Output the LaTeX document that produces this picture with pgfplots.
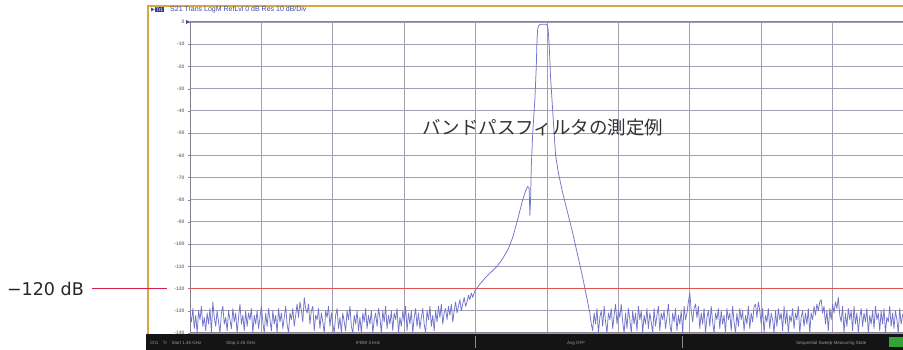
\documentclass[border=0pt]{standalone}
\usepackage{pgfplots}
\pgfplotsset{compat=1.18}
\usepackage{fontspec}
\setmainfont{DejaVu Sans}
\newfontfamily\jp{Noto Sans CJK JP}
\newfontfamily\lib{Liberation Sans}
\definecolor{goldc}{HTML}{D6A843}
\definecolor{gridc}{HTML}{A49EB2}
\definecolor{axc}{HTML}{86808F}
\definecolor{tracec}{HTML}{7174C8}
\definecolor{refred}{HTML}{E2554E}
\definecolor{annred}{HTML}{D4234A}
\definecolor{titleblue}{HTML}{3A4AA8}
\begin{document}
\begin{tikzpicture}
\useasboundingbox (0,0) rectangle (903pt,350pt);
\fill[white] (0,0) rectangle (903pt,350pt);
\fill[black!92] (146pt,0pt) rectangle (903pt,16pt);
\draw[goldc, line width=2pt] (148pt,16pt) -- (148pt,344pt) -- (910pt,344pt);
\begin{axis}[
  at={(190pt,17pt)}, anchor=south west,
  scale only axis, width=714pt, height=311pt,
  xmin=1450, xmax=2450, ymin=-140, ymax=0,
  xtick={1450,1550,...,2450}, xticklabels={},
  ytick={0,-10,...,-140},
  yticklabel style={font=\lib\bfseries\fontsize{5}{6}\selectfont, text=black!50},
  /pgf/number format/assume math mode=true,
  grid=major,
  major grid style={color=gridc, line width=0.9pt},
  axis line style={color=axc, line width=1pt},
  tick style={color=axc},
  major tick length=2pt,
  tick align=outside,
  xtick style={draw=none},
  axis background/.style={fill=white},
]
\addplot[refred, line width=0.9pt] coordinates {(1450,-120) (2450,-120)};
\addplot[tracec, line width=0.75pt, line join=round] coordinates {
(1450,-131) (1452,-135) (1454,-129) (1456,-138) (1458,-132) (1460,-140) (1462,-130) (1464,-134) (1466,-128) (1468,-137)
(1470,-133) (1472,-139) (1474,-131) (1476,-136) (1478,-129) (1480,-140) (1482,-126) (1484,-133) (1486,-137) (1488,-130)
(1490,-135) (1492,-140) (1494,-131) (1496,-128) (1498,-136) (1500,-133) (1502,-139) (1504,-130) (1506,-134) (1508,-138)
(1510,-129) (1512,-135) (1514,-131) (1516,-140) (1518,-133) (1520,-127) (1522,-136) (1524,-132) (1526,-139) (1528,-130)
(1530,-137) (1532,-131) (1534,-134) (1536,-129) (1538,-140) (1540,-132) (1542,-136) (1544,-130) (1546,-138) (1548,-133)
(1550,-128) (1552,-135) (1554,-140) (1556,-131) (1558,-137) (1560,-129) (1562,-134) (1564,-139) (1566,-130) (1568,-136)
(1570,-132) (1572,-140) (1574,-129) (1576,-135) (1578,-131) (1580,-138) (1582,-133) (1584,-128) (1586,-136) (1588,-140)
(1590,-131) (1592,-134) (1594,-129) (1596,-137) (1598,-132) (1600,-127) (1602,-133) (1604,-126) (1606,-130) (1608,-135)
(1610,-124) (1612,-129) (1614,-131) (1616,-127) (1618,-136) (1620,-130) (1622,-128) (1624,-139) (1626,-132) (1628,-134)
(1630,-129) (1632,-138) (1634,-131) (1636,-135) (1638,-140) (1640,-130) (1642,-133) (1644,-128) (1646,-137) (1648,-131)
(1650,-136) (1652,-140) (1654,-132) (1656,-129) (1658,-138) (1660,-133) (1662,-140) (1664,-131) (1666,-135) (1668,-139)
(1670,-130) (1672,-134) (1674,-128) (1676,-137) (1678,-140) (1680,-132) (1682,-136) (1684,-130) (1686,-139) (1688,-133)
(1690,-140) (1692,-131) (1694,-135) (1696,-129) (1698,-138) (1700,-132) (1702,-136) (1704,-130) (1706,-140) (1708,-134)
(1710,-131) (1712,-137) (1714,-129) (1716,-133) (1718,-140) (1720,-130) (1722,-135) (1724,-128) (1726,-138) (1728,-132)
(1730,-136) (1732,-130) (1734,-139) (1736,-131) (1738,-134) (1740,-129) (1742,-140) (1744,-133) (1746,-137) (1748,-130)
(1750,-135) (1752,-128) (1754,-139) (1756,-131) (1758,-136) (1760,-130) (1762,-140) (1764,-133) (1766,-129) (1768,-137)
(1770,-131) (1772,-138) (1774,-133) (1776,-129) (1778,-136) (1780,-140) (1782,-130) (1784,-134) (1786,-128) (1788,-137)
(1790,-132) (1792,-139) (1794,-130) (1796,-135) (1798,-128) (1800,-133) (1802,-127) (1804,-136) (1806,-131) (1808,-129)
(1810,-134) (1812,-128) (1814,-132) (1816,-127) (1818,-135) (1820,-130) (1822,-126) (1824,-131) (1826,-128) (1828,-125)
(1830,-130) (1832,-127) (1834,-124) (1836,-128) (1838,-126) (1840,-123) (1842,-125) (1844,-122) (1846,-124)
(1849,-121) (1856,-118) (1864,-115) (1872,-112.5) (1880,-110) (1888,-106.5) (1896,-102) (1902,-97)
(1908,-90) (1912,-85) (1916,-80) (1920,-76) (1923,-74) (1925,-75) (1926,-87) (1927,-80)
(1928,-65) (1930,-50) (1933,-35) (1935,-20) (1936,-8) (1937,-3) (1938.5,-1.5) (1942,-1)
(1948,-1) (1950,-1.3) (1951.5,-3) (1953,-10) (1955,-25) (1958,-40) (1962,-60) (1966,-68)
(1972,-77) (1979,-86) (1986,-95) (1993,-105) (2000,-115) (2005,-123) (2010,-131) (2012,-136)
(2014,-139) (2016,-131) (2018,-136) (2020,-129) (2022,-140) (2024,-133) (2026,-130) (2028,-137) (2030,-128) (2032,-135)
(2034,-140) (2036,-131) (2038,-134) (2040,-129) (2042,-138) (2044,-132) (2046,-127) (2048,-136) (2050,-130) (2052,-133)
(2054,-127) (2056,-135) (2058,-140) (2060,-131) (2062,-138) (2064,-129) (2066,-134) (2068,-140) (2070,-130) (2072,-136)
(2074,-131) (2076,-139) (2078,-128) (2080,-134) (2082,-130) (2084,-140) (2086,-132) (2088,-136) (2090,-129) (2092,-138)
(2094,-131) (2096,-135) (2098,-140) (2100,-129) (2102,-137) (2104,-132) (2106,-128) (2108,-139) (2110,-131) (2112,-134)
(2114,-130) (2116,-138) (2118,-133) (2120,-127) (2122,-136) (2124,-140) (2126,-131) (2128,-135) (2130,-129) (2132,-139)
(2134,-132) (2136,-136) (2138,-130) (2140,-140) (2142,-128) (2144,-134) (2146,-131) (2148,-126) (2150,-122) (2152,-130)
(2154,-135) (2156,-129) (2158,-127) (2160,-133) (2162,-128) (2164,-138) (2166,-131) (2168,-136) (2170,-129) (2172,-140)
(2174,-133) (2176,-130) (2178,-137) (2180,-128) (2182,-135) (2184,-140) (2186,-131) (2188,-134) (2190,-129) (2192,-138)
(2194,-130) (2196,-136) (2198,-132) (2200,-140) (2202,-129) (2204,-134) (2206,-131) (2208,-139) (2210,-128) (2212,-135)
(2214,-140) (2216,-131) (2218,-137) (2220,-129) (2222,-134) (2224,-130) (2226,-139) (2228,-132) (2230,-136) (2232,-128)
(2234,-138) (2236,-131) (2238,-135) (2240,-128) (2242,-127) (2244,-133) (2246,-126) (2248,-130) (2250,-136) (2252,-129)
(2254,-140) (2256,-132) (2258,-135) (2260,-129) (2262,-138) (2264,-131) (2266,-134) (2268,-140) (2270,-130) (2272,-137)
(2274,-129) (2276,-134) (2278,-131) (2280,-139) (2282,-128) (2284,-136) (2286,-130) (2288,-140) (2290,-132) (2292,-135)
(2294,-129) (2296,-138) (2298,-131) (2300,-134) (2302,-128) (2304,-140) (2306,-133) (2308,-130) (2310,-137) (2312,-131)
(2314,-136) (2316,-129) (2318,-140) (2320,-131) (2322,-134) (2324,-128) (2326,-132) (2328,-127) (2330,-130) (2332,-126)
(2334,-125) (2336,-131) (2338,-128) (2340,-136) (2342,-130) (2344,-139) (2346,-129) (2348,-134) (2350,-127) (2352,-131)
(2354,-126) (2356,-129) (2358,-124) (2360,-132) (2362,-135) (2364,-128) (2366,-140) (2368,-131) (2370,-137) (2372,-129)
(2374,-134) (2376,-130) (2378,-139) (2380,-128) (2382,-136) (2384,-131) (2386,-140) (2388,-133) (2390,-129) (2392,-137)
(2394,-131) (2396,-135) (2398,-129) (2400,-140) (2402,-132) (2404,-136) (2406,-130) (2408,-138) (2410,-128) (2412,-134)
(2414,-131) (2416,-139) (2418,-130) (2420,-136) (2422,-129) (2424,-140) (2426,-133) (2428,-135) (2430,-128) (2432,-137)
(2434,-131) (2436,-138) (2438,-130) (2440,-134) (2442,-140) (2444,-129) (2446,-136) (2448,-132) (2450,-130)
};
\node[font=\jp\fontsize{18.5}{20}\selectfont, text=black!80] at (axis cs:1944,-47.3) {バンドパスフィルタの測定例};
\end{axis}
% reference level marker
\fill[titleblue] (186pt,326pt) -- (190pt,328pt) -- (186pt,330pt) -- cycle;
% title
\fill[titleblue] (151pt,338.5pt) -- (154.5pt,340.5pt) -- (151pt,342.5pt) -- cycle;
\node[fill=titleblue!85!black, text=white, inner sep=0.7pt, font=\lib\fontsize{5}{6}\selectfont, anchor=west] at (155pt,340.5pt) {Tr1};
\node[text=titleblue, inner sep=0pt, font=\lib\fontsize{7}{8}\selectfont, anchor=west] at (170pt,340.5pt) {S21 Trans LogM RefLvl 0 dB Res 10 dB/Div};
% status bar
\begin{scope}[every node/.style={text=black!40, inner sep=0pt, font=\lib\fontsize{4.5}{5}\selectfont, anchor=west}]
\node at (150pt,7pt) {Ch1\quad Tr\quad Start 1.45 GHz};
\node at (226pt,7pt) {Stop 2.45 GHz};
\node at (356pt,7pt) {IFBW 3 kHz};
\node at (567pt,7pt) {Avg OFF};
\node at (796pt,7pt) {Sequential Sweep Measuring State};
\end{scope}
\draw[black!45, line width=0.5pt] (475pt,2pt) -- (475pt,14pt);
\draw[black!45, line width=0.5pt] (682pt,2pt) -- (682pt,14pt);
\fill[green!55!black!80] (889pt,3pt) rectangle (903pt,13pt);
% annotation
\node[anchor=east, inner sep=0pt, text=black!85, font=\fontsize{17.5}{19}\selectfont] at (84pt,61pt) {−120 dB};
\draw[annred, line width=1pt] (92pt,61pt) -- (167pt,61pt);
\end{tikzpicture}
\end{document}
